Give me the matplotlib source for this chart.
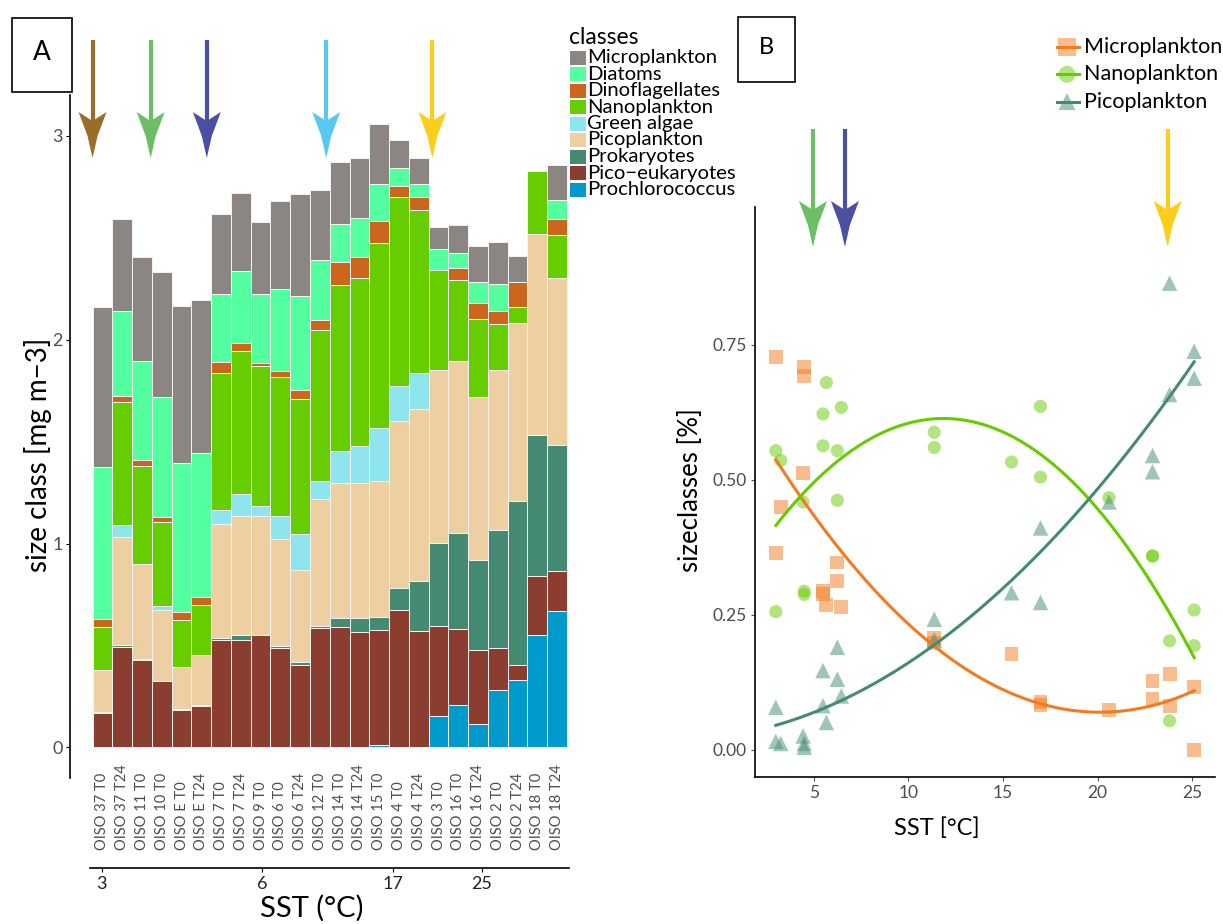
import numpy as np
import matplotlib
matplotlib.use("Agg")
import matplotlib.pyplot as plt
from matplotlib.patches import Polygon, Rectangle
from matplotlib.lines import Line2D
from matplotlib.transforms import IdentityTransform, blended_transform_factory

plt.rcParams['font.family'] = ['Lato', 'DejaVu Sans']

W, H = 1223, 924

# ---------------- Panel A: stacked biomass per sample ----------------
samples = ["OISO 37 T0", "OISO 37 T24", "OISO 11 T0", "OISO 10 T0", "OISO E T0", "OISO E T24",
           "OISO 7 T0", "OISO 7 T24", "OISO 9 T0", "OISO 6 T0", "OISO 6 T24", "OISO 12 T0",
           "OISO 14 T0", "OISO 14 T24", "OISO 15 T0", "OISO 4 T0", "OISO 4 T24", "OISO 3 T0",
           "OISO 16 T0", "OISO 16 T24", "OISO 2 T0", "OISO 2 T24", "OISO 18 T0", "OISO 18 T24"]

prochlorococcus = [0, 0, 0, 0, 0, 0, 0, 0, 0, 0, 0, 0, 0, 0, 0.01, 0, 0,
                   0.154, 0.209, 0.117, 0.284, 0.330, 0.551, 0.667]
pico_eukaryotes = [0.167, 0.493, 0.430, 0.324, 0.183, 0.203, 0.526, 0.529, 0.553, 0.487, 0.405, 0.588,
                   0.590, 0.568, 0.565, 0.674, 0.573, 0.443, 0.370, 0.361, 0.205, 0.075, 0.288, 0.199]
prokaryotes = [0.009, 0.009, 0.006, 0, 0.003, 0.006, 0.009, 0.024, 0, 0.011, 0.016, 0.009,
               0.044, 0.066, 0.066, 0.110, 0.244, 0.405, 0.474, 0.443, 0.579, 0.802, 0.694, 0.616]
picoplankton = [0.205, 0.531, 0.465, 0.348, 0.206, 0.243, 0.560, 0.581, 0.584, 0.522, 0.449, 0.621,
                0.661, 0.661, 0.665, 0.815, 0.842, 0.848, 0.843, 0.799, 0.784, 0.877, 0.985, 0.818]
green_algae = [0, 0.057, 0, 0.022, 0, 0, 0.068, 0.110, 0.046, 0.114, 0.176, 0.088,
               0.161, 0.183, 0.260, 0.174, 0.176, 0, 0, 0, 0, 0, 0, 0]
nanoplankton = [0.209, 0.606, 0.480, 0.412, 0.231, 0.246, 0.672, 0.701, 0.689, 0.683, 0.661, 0.742,
                0.813, 0.824, 0.908, 0.927, 0.799, 0.491, 0.395, 0.383, 0.223, 0.075, 0.308, 0.213]
dinoflagellates = [0.038, 0.029, 0.029, 0.024, 0.040, 0.042, 0.053, 0.040, 0.013, 0.029, 0.044, 0.049,
                   0.110, 0.103, 0.110, 0.056, 0.064, 0, 0.061, 0.078, 0.068, 0.123, 0, 0.077]
diatoms = [0.749, 0.418, 0.484, 0.588, 0.731, 0.705, 0.337, 0.350, 0.340, 0.401, 0.463, 0.293,
           0.189, 0.190, 0.180, 0.085, 0.066, 0.106, 0.073, 0.101, 0.132, 0, 0, 0.097]
microplankton = [0.782, 0.450, 0.513, 0.615, 0.771, 0.751, 0.390, 0.385, 0.354, 0.431, 0.502, 0.343,
                 0.302, 0.297, 0.293, 0.139, 0.128, 0.108, 0.137, 0.176, 0.203, 0.128, 0, 0.170]

# legend order (top of stack first)
class_names = ["Microplankton", "Diatoms", "Dinoflagellates", "Nanoplankton", "Green algae",
               "Picoplankton", "Prokaryotes", "Pico\u2212eukaryotes", "Prochlorococcus"]
class_values = [microplankton, diatoms, dinoflagellates, nanoplankton, green_algae,
                picoplankton, prokaryotes, pico_eukaryotes, prochlorococcus]
class_colors = ["#8B8682", "#54FF9F", "#CD661D", "#66CD00", "#8EE5EE",
                "#EECFA1", "#458B74", "#8B3E2F", "#009ACD"]

sst_tick_pos = [0, 8.1, 14.7, 19.2]
sst_tick_labels = ["3", "6", "17", "25"]

arrow_a_pos = [-0.5, 2.44, 5.28, 11.32, 16.69]
arrow_a_colors = ["#9B6D2A", "#6CBF64", "#4B50A2", "#58C8F2", "#FDCD1B"]

# ---------------- Panel B: size-class fractions vs SST ----------------
sst = [3.0, 3.0, 3.26, 4.44, 4.5, 4.5, 5.49, 5.49, 5.67, 6.25, 6.25, 6.46,
       11.37, 11.37, 15.45, 16.98, 16.98, 20.6, 22.9, 22.9, 23.8, 23.8, 25.1, 25.1]
frac_micro = [0.728, 0.365, 0.450, 0.513, 0.709, 0.693, 0.295, 0.288, 0.268, 0.347, 0.313, 0.264,
              0.208, 0.198, 0.177, 0.088, 0.083, 0.074, 0.127, 0.095, 0.140, 0.082, 0.117, 0.0]
frac_nano = [0.256, 0.554, 0.536, 0.459, 0.288, 0.294, 0.622, 0.563, 0.680, 0.462, 0.554, 0.634,
             0.588, 0.560, 0.533, 0.636, 0.505, 0.467, 0.359, 0.359, 0.202, 0.054, 0.193, 0.259]
frac_pico = [0.016, 0.079, 0.012, 0.026, 0.005, 0.012, 0.082, 0.147, 0.051, 0.190, 0.131, 0.100,
             0.204, 0.242, 0.291, 0.273, 0.411, 0.459, 0.515, 0.545, 0.658, 0.864, 0.688, 0.738]

size_names = ["Microplankton", "Nanoplankton", "Picoplankton"]
size_values = [frac_micro, frac_nano, frac_pico]
size_colors = ["#F47A1F", "#66CC00", "#458B74"]
size_markers = ["s", "o", "^"]
size_msize = [100, 90, 125]

arrow_b_sst = [4.96, 6.65, 23.7]
arrow_b_colors = ["#6CBF64", "#4B50A2", "#FDCD1B"]

GREY = "#4D4D4D"

fig = plt.figure(figsize=(W / 100, H / 100), dpi=100)


def px_axes(left, top, right, bottom):
    return fig.add_axes([left / W, 1 - bottom / H, (right - left) / W, (bottom - top) / H])


def draw_arrow(ax, xd, top_px, tip_px, color, zorder=1):
    xp = ax.transData.transform((xd, 0))[0]
    ytop, ytip = H - top_px, H - tip_px
    base = ytip + 46
    ax.add_line(Line2D([xp, xp], [ytop, base - 12], color=color, lw=3.0,
                       transform=IdentityTransform(), clip_on=False,
                       solid_capstyle='butt', zorder=zorder))
    pts = [(xp - 14, base), (xp - 5, ytip + 22), (xp, ytip), (xp + 5, ytip + 22),
           (xp + 14, base), (xp, base - 9)]
    ax.add_patch(Polygon(pts, closed=True, facecolor=color, edgecolor='none',
                         transform=IdentityTransform(), clip_on=False, zorder=zorder))


# ---- Panel A axes ----
axA = px_axes(70, 95, 569, 778)
axA.set_xlim(-1.64, 23.6)
axA.set_ylim(-0.15, 3.2)
x = np.arange(len(samples))
bottom = np.zeros(len(samples))
for vals, col in zip(class_values[::-1], class_colors[::-1]):
    v = np.asarray(vals, dtype=float)
    m = v > 0
    axA.bar(x[m], v[m], bottom=bottom[m], width=1.0, color=col,
            edgecolor="#F4F4F4", linewidth=0.7, zorder=2)
    bottom += v
for s in ["top", "right", "bottom"]:
    axA.spines[s].set_visible(False)
axA.spines["left"].set_linewidth(1.2)
axA.set_xticks([])
axA.set_yticks([0, 1, 2, 3])
axA.tick_params(axis="y", length=3, width=0.8, colors="black", labelcolor=GREY,
                labelsize=13, pad=2)
label_tr = blended_transform_factory(axA.transData, fig.transFigure)
for xi, lab in zip(x, samples):
    axA.text(xi, 1 - 850 / H, lab, rotation=90, ha="center", va="bottom",
             fontsize=10.5, color=GREY, transform=label_tr)

# SST axis under panel A
axS = px_axes(90, 867, 569, 868)
axS.set_xlim(-0.6, 23.6)
for s in ["top", "right", "left"]:
    axS.spines[s].set_visible(False)
axS.spines["bottom"].set_linewidth(1.2)
axS.set_yticks([])
axS.set_xticks(sst_tick_pos)
axS.set_xticklabels(sst_tick_labels)
axS.tick_params(axis="x", length=3, width=0.8, labelsize=13, labelcolor="#222222", pad=3)
axS.patch.set_alpha(0)

# ---- Panel B axes ----
axB = px_axes(755, 207, 1215, 777)
axB.set_xlim(1.9, 26.2)
axB.set_ylim(-0.05, 1.005)
for vals, col, mk, ms in zip(size_values, size_colors, size_markers, size_msize):
    axB.scatter(sst, vals, marker=mk, s=ms, color=col, alpha=0.5, edgecolors="none",
                zorder=3, clip_on=False)
xs = np.linspace(min(sst), max(sst), 200)
for vals, col in zip(size_values, size_colors):
    coef = np.polyfit(sst, vals, 2)
    axB.plot(xs, np.polyval(coef, xs), color=col, lw=2.2, zorder=4)
for s in ["top", "right"]:
    axB.spines[s].set_visible(False)
axB.spines["left"].set_linewidth(1.2)
axB.spines["bottom"].set_linewidth(1.2)
axB.set_xticks([5, 10, 15, 20, 25])
axB.set_yticks([0, 0.25, 0.5, 0.75])
axB.set_yticklabels(["0.00", "0.25", "0.50", "0.75"])
axB.tick_params(length=3, width=0.8, colors=GREY, labelsize=12.5, pad=3)

# arrows
for xd, col in zip(arrow_a_pos, arrow_a_colors):
    draw_arrow(axA, xd, 40, 158, col, zorder=5)
for xd, col in zip(arrow_b_sst, arrow_b_colors):
    draw_arrow(axB, xd, 129, 247, col, zorder=2)

# ---- overlay in pixel coordinates: titles, legends, panel tags ----
ov = fig.add_axes([0, 0, 1, 1])
ov.set_xlim(0, W)
ov.set_ylim(H, 0)
ov.axis("off")
ov.set_zorder(10)

ov.add_patch(Rectangle((12, 18), 60, 74, fill=False, lw=1.2, edgecolor="black"))
ov.text(42, 53, "A", fontsize=19, ha="center", va="center")
ov.add_patch(Rectangle((738, 17), 57, 65, fill=False, lw=1.2, edgecolor="black"))
ov.text(766.5, 48, "B", fontsize=17, ha="center", va="center")

ov.text(38, 455, "size class [mg m\u22123]", rotation=90, ha="center", va="center", fontsize=20)
ov.text(312, 908, "SST (\u00b0C)", ha="center", va="center", fontsize=21)
ov.text(690, 490, "sizeclasses [%]", rotation=90, ha="center", va="center", fontsize=18.5)
ov.text(937, 828, "SST [\u00b0C]", ha="center", va="center", fontsize=17)

# legend A
ov.text(569, 38, "classes", ha="left", va="center", fontsize=16.5)
for i, (name, col) in enumerate(zip(class_names, class_colors)):
    yc = 57.5 + i * 16.5
    ov.add_patch(Rectangle((569.5, yc - 7), 16, 14, facecolor=col, edgecolor="none"))
    ov.text(587, yc, name, ha="left", va="center", fontsize=14.6)

# legend B
for i, (name, col, mk) in enumerate(zip(size_names, size_colors, size_markers)):
    yc = 47 + i * 27.3
    ov.plot([1057, 1079], [yc, yc], color=col, lw=2.2)
    ov.scatter([1067], [yc], marker=mk, s=150, color=col, alpha=0.5, edgecolors="none")
    ov.text(1084, yc, name, ha="left", va="center", fontsize=15.5)

fig.savefig("out.png", dpi=100)
